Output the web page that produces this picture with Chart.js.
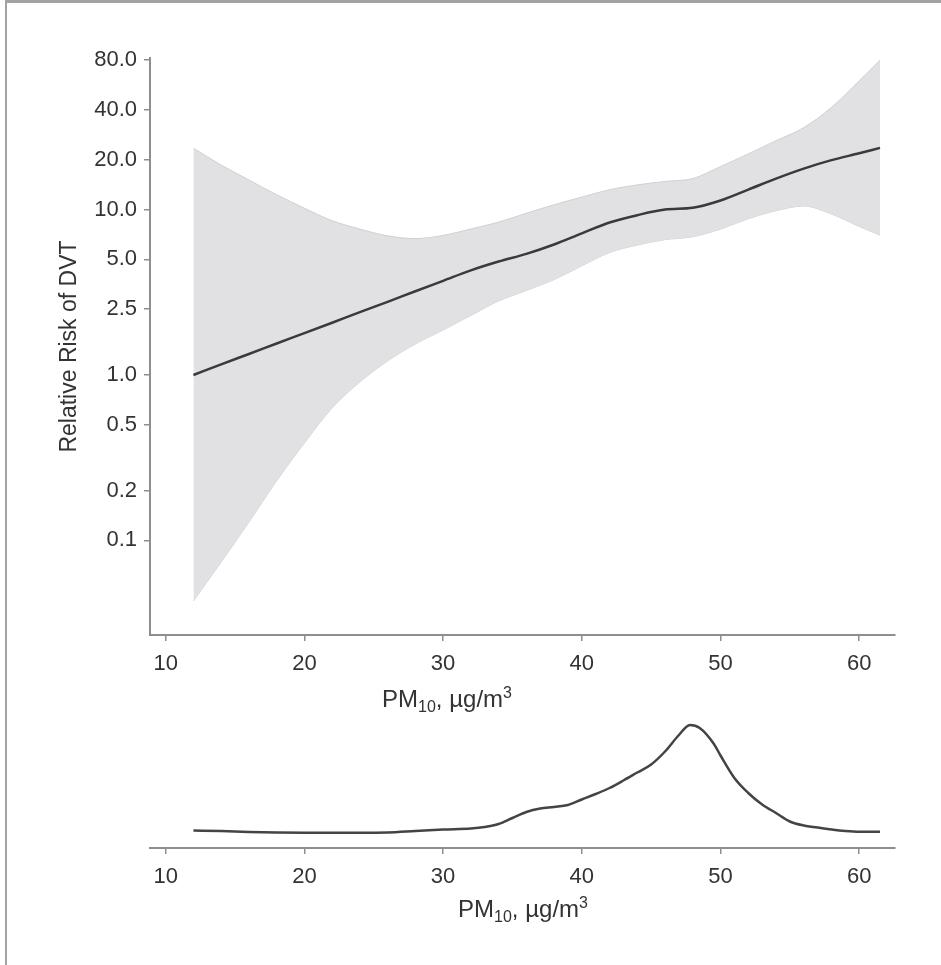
<!DOCTYPE html>
<html>
<head>
<meta charset="utf-8">
<script src="https://cdn.jsdelivr.net/npm/chart.js@4.4.1/dist/chart.umd.min.js"></script>
<style>
  html, body { margin: 0; padding: 0; background: #fff; }
  #wrap { position: relative; width: 941px; height: 965px; overflow: hidden; }
  #frame { position: absolute; left: 5px; top: 0; width: 936px; height: 965px; box-sizing: border-box;
           border-top: 3px solid #a2a2a2; border-left: 2px solid #a2a2a2; }
  #top { position: absolute; left: 0; top: 0; }
  #bottom { position: absolute; left: 0; top: 690px; }
</style>
</head>
<body>
<div id="wrap">
  <div id="frame"></div>
  <canvas id="top" width="941" height="740"></canvas>
  <canvas id="bottom" width="941" height="275"></canvas>
</div>
<script>
// PM10 values (µg/m3) where the spline was read
const pm = [12, 14, 16, 18, 20, 22, 24, 26, 28, 30, 32, 34, 36, 38, 40, 42, 44, 46, 48, 50, 52, 54, 56, 58, 60, 61.5];
// relative risk of DVT and its confidence band
const rr = [1.00, 1.16, 1.34, 1.55, 1.79, 2.07, 2.40, 2.77, 3.21, 3.71, 4.29, 4.85, 5.40, 6.15, 7.18, 8.35, 9.25, 10.0, 10.25, 11.35, 13.2, 15.4, 17.7, 19.9, 21.9, 23.6];
const rrUpper = [23.5, 18.6, 15.1, 12.3, 10.2, 8.57, 7.63, 6.94, 6.68, 6.98, 7.64, 8.4, 9.5, 10.7, 11.9, 13.2, 14.1, 14.8, 15.4, 18.2, 21.7, 26.1, 31.3, 41.5, 60, 80];
const rrLower = [0.043, 0.074, 0.129, 0.229, 0.388, 0.632, 0.907, 1.215, 1.54, 1.87, 2.29, 2.80, 3.24, 3.77, 4.57, 5.5, 6.1, 6.58, 6.85, 7.62, 8.8, 9.84, 10.5, 9.4, 7.9, 7.0];

// exposure density (lower panel)
const densityPm = [12, 14, 16, 18, 20, 22, 24, 26, 28, 30, 32, 33, 34, 35, 36, 37, 38, 39, 40, 41, 42, 43, 44, 45, 46, 47, 47.8, 48.5, 49.5, 50, 51, 52, 53, 54, 55, 56, 57, 58, 59, 60, 61.5];
const density = [0.0070, 0.0068, 0.0064, 0.0062, 0.0061, 0.0061, 0.0061, 0.0062, 0.0068, 0.0074, 0.0078, 0.0084, 0.0096, 0.0120, 0.0144, 0.0158, 0.0164, 0.0172, 0.0194, 0.0216, 0.0240, 0.0270, 0.0302, 0.0334, 0.0386, 0.0452, 0.0492, 0.0480, 0.0418, 0.0370, 0.0280, 0.0220, 0.0174, 0.0140, 0.0106, 0.0090, 0.0082, 0.0074, 0.0068, 0.0065, 0.0065];

const xTicks = [10, 20, 30, 40, 50, 60];
const yTicks = [0.1, 0.2, 0.5, 1, 2.5, 5, 10, 20, 40, 80];

const family = '"Liberation Sans", Arial, Helvetica, sans-serif';
const axisGrey = '#8e8e8e';
const textColor = '#333';

function pts(xs, ys) {
  return xs.map((x, i) => ({ x: x, y: ys[i] }));
}

// x-axis title with subscript / superscript
function pmTitle(id, cx, baseline) {
  return {
    id: id,
    afterDraw(chart) {
      const ctx = chart.ctx;
      const big = '24px ' + family;
      const small = '16px ' + family;
      const parts = [["PM", big, 0], ["10", small, 5], [", \u00b5g/m", big, 0], ["3", small, -9]];
      ctx.save();
      let w = 0;
      parts.forEach(p => { ctx.font = p[1]; w += ctx.measureText(p[0]).width; });
      let x = cx - w / 2;
      ctx.fillStyle = textColor;
      ctx.textBaseline = 'alphabetic';
      ctx.textAlign = 'left';
      parts.forEach(p => {
        ctx.font = p[1];
        ctx.fillText(p[0], x, baseline + p[2]);
        x += ctx.measureText(p[0]).width;
      });
      ctx.restore();
    }
  };
}

function xScale(height) {
  return {
    type: 'linear',
    min: 8.868,
    max: 62.58,
    afterBuildTicks: s => { s.ticks = xTicks.map(v => ({ value: v })); },
    afterFit: s => { s.height = height; },
    border: { display: true, color: axisGrey, width: 2 },
    grid: { drawOnChartArea: false, drawTicks: true, tickLength: 6, color: axisGrey, lineWidth: 1.5 },
    ticks: { color: textColor, font: { size: 22, family: family }, padding: 10, maxRotation: 0, autoSkip: false }
  };
}

new Chart(document.getElementById('top'), {
  type: 'line',
  data: {
    datasets: [
      {
        label: 'Relative risk',
        data: pts(pm, rr),
        borderColor: '#3a3a3a',
        borderWidth: 2.5,
        fill: false,
        pointRadius: 0,
        cubicInterpolationMode: 'monotone'
      },
      {
        label: 'Upper 95% CI',
        data: pts(pm, rrUpper),
        borderColor: '#d0d0d4',
        borderWidth: 1,
        backgroundColor: '#e1e1e3',
        fill: '+1',
        pointRadius: 0,
        cubicInterpolationMode: 'monotone'
      },
      {
        label: 'Lower 95% CI',
        data: pts(pm, rrLower),
        borderColor: '#d0d0d4',
        borderWidth: 1,
        fill: false,
        pointRadius: 0,
        cubicInterpolationMode: 'monotone'
      }
    ]
  },
  options: {
    responsive: false,
    animation: false,
    layout: { padding: { top: 58, right: 46, left: 0, bottom: 0 } },
    plugins: { legend: { display: false }, tooltip: { enabled: false } },
    scales: {
      x: xScale(105),
      y: {
        type: 'logarithmic',
        min: 0.0268,
        max: 82.5,
        afterBuildTicks: s => { s.ticks = yTicks.map(v => ({ value: v })); },
        afterFit: s => { s.width = 150; },
        border: { display: true, color: axisGrey, width: 2 },
        grid: { drawOnChartArea: false, drawTicks: true, tickLength: 6, color: axisGrey, lineWidth: 1.5 },
        ticks: {
          color: textColor,
          font: { size: 22, family: family },
          padding: 7,
          autoSkip: false,
          callback: v => Number(v).toFixed(1)
        },
        title: {
          display: true,
          text: 'Relative Risk of DVT',
          color: textColor,
          font: { size: 23, family: family },
          padding: { top: 56, bottom: 0 }
        }
      }
    }
  },
  plugins: [pmTitle('topTitle', 447, 707)]
});

new Chart(document.getElementById('bottom'), {
  type: 'line',
  data: {
    datasets: [
      {
        label: 'Density',
        data: pts(densityPm, density),
        borderColor: '#444',
        borderWidth: 2.5,
        fill: false,
        pointRadius: 0,
        cubicInterpolationMode: 'monotone'
      }
    ]
  },
  options: {
    responsive: false,
    animation: false,
    layout: { padding: { top: 10, right: 46, left: 150, bottom: 0 } },
    plugins: { legend: { display: false }, tooltip: { enabled: false } },
    scales: {
      x: xScale(117),
      y: { display: false, min: 0, max: 0.0592 }
    }
  },
  plugins: [pmTitle('bottomTitle', 523, 917 - 690)]
});
</script>
</body>
</html>
